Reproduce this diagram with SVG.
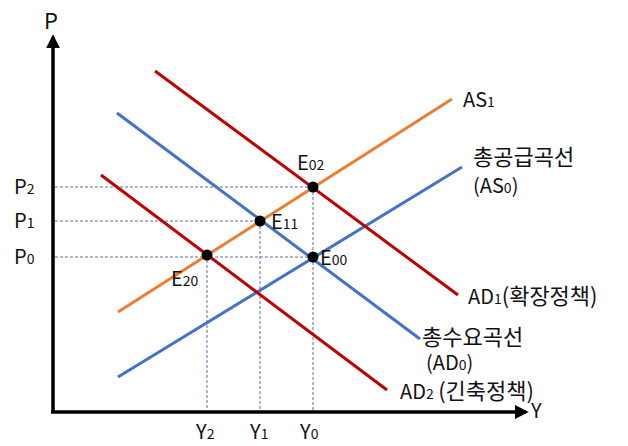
<svg xmlns="http://www.w3.org/2000/svg" width="628" height="446" viewBox="0 0 628 446">
<style>
text{font-family:"Noto Sans CJK KR","Liberation Sans",sans-serif;font-size:20px;fill:#111}
.k{font-size:22px}
.s{font-size:14px}
.ax{stroke:#000;stroke-width:3.5;fill:none}
.dash{stroke:#5a6fa8;stroke-width:1;stroke-dasharray:3 2;fill:none}
.red{stroke:#c00000;stroke-width:3;fill:none}
.blue{stroke:#4472c4;stroke-width:3;fill:none}
.orange{stroke:#ed7d31;stroke-width:3;fill:none}
.pt{fill:#000}
</style>
<defs>
<marker id="ahb" viewBox="0 0 10 10" markerWidth="14" markerHeight="14" refX="8" refY="5" orient="auto" markerUnits="userSpaceOnUse">
<path d="M0,0 L10,5 L0,10 z" fill="#000"/>
</marker>
</defs>
<g id="connectors">
<line class="dash" x1="55" y1="187" x2="313" y2="187"/>
<line class="dash" x1="55" y1="221" x2="260" y2="221"/>
<line class="dash" x1="55" y1="257" x2="313" y2="257"/>
<line class="dash" x1="207" y1="255" x2="207" y2="410"/>
<line class="dash" x1="260" y1="221" x2="260" y2="410"/>
<line class="dash" x1="313" y1="187" x2="313" y2="410"/>
<line id="AS1" class="orange" x1="118" y1="312" x2="452" y2="99"/>
<line id="AS0" class="blue" x1="118" y1="377" x2="462" y2="167"/>
<line id="AD0" class="blue" x1="117" y1="113" x2="420" y2="339"/>
<line id="AD1" class="red" x1="155" y1="71" x2="458" y2="295"/>
<line id="AD2" class="red" x1="101" y1="175" x2="387" y2="390"/>
<line class="ax" x1="53" y1="412" x2="53" y2="37" marker-end="url(#ahb)"/>
<line class="ax" x1="51" y1="412" x2="526" y2="412" marker-end="url(#ahb)"/>
</g>
<g id="E02"><circle class="pt" cx="313" cy="187" r="5.5"/><text x="297" y="170">E<tspan class="s">02</tspan></text></g>
<g id="E11"><circle class="pt" cx="260" cy="221" r="5.5"/><text x="271" y="229">E<tspan class="s">11</tspan></text></g>
<g id="E00"><circle class="pt" cx="313" cy="257" r="5.5"/><text x="320" y="265">E<tspan class="s">00</tspan></text></g>
<g id="E20"><circle class="pt" cx="207" cy="255" r="5.5"/><text x="171" y="286">E<tspan class="s">20</tspan></text></g>
<g id="labels">
<text x="44" y="29" style="font-size:22px">P</text>
<text x="531" y="418">Y</text>
<text x="14" y="194">P<tspan class="s">2</tspan></text>
<text x="14" y="228">P<tspan class="s">1</tspan></text>
<text x="14" y="264">P<tspan class="s">0</tspan></text>
<text x="196" y="439">Y<tspan class="s">2</tspan></text>
<text x="250" y="439">Y<tspan class="s">1</tspan></text>
<text x="300" y="439">Y<tspan class="s">0</tspan></text>
<text x="463" y="107">AS<tspan class="s">1</tspan></text>
<text class="k" x="473" y="165">총공급곡선</text>
<text x="473" y="193">(AS<tspan class="s">0</tspan>)</text>
<text x="468" y="304">AD<tspan class="s">1</tspan><tspan class="k">(확장정책)</tspan></text>
<text class="k" x="422" y="345">총수요곡선</text>
<text x="426" y="370">(AD<tspan class="s">0</tspan>)</text>
<text x="400" y="399">AD<tspan class="s">2</tspan> <tspan class="k">(긴축정책)</tspan></text>
</g>
</svg>
